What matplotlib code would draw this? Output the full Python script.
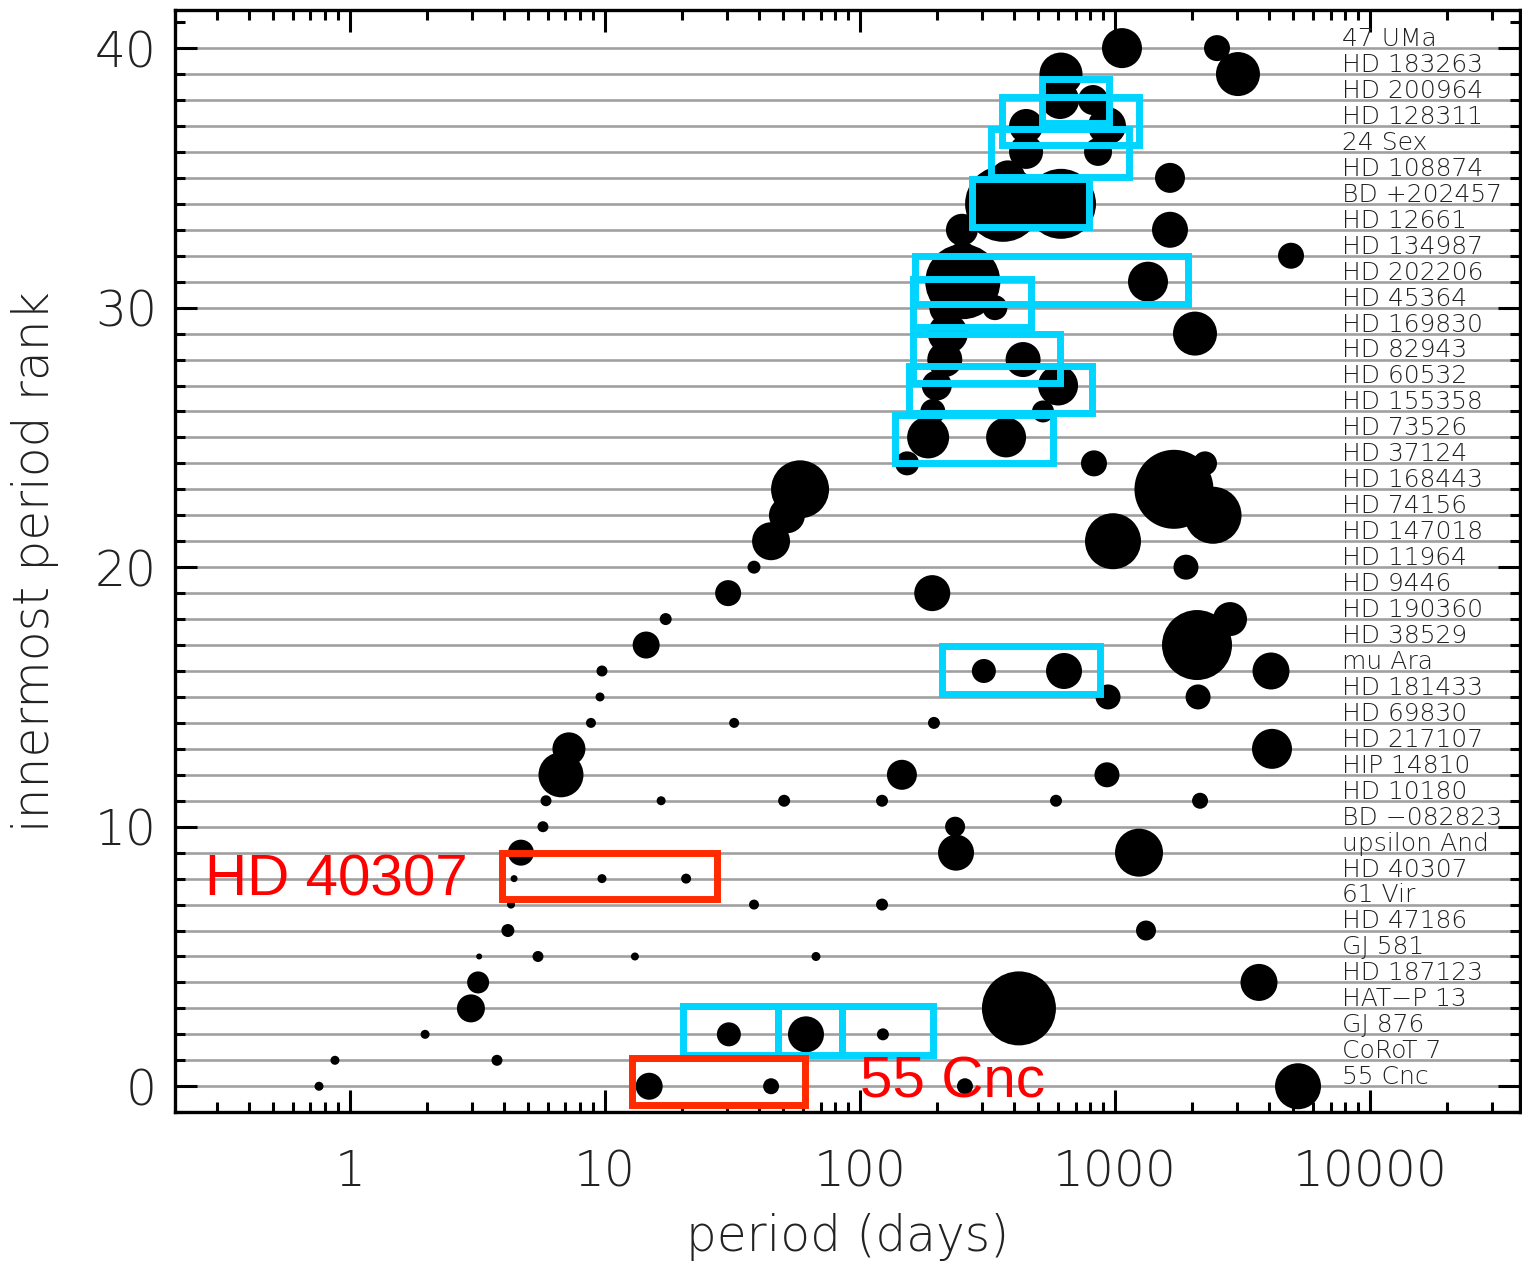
import numpy as np
import matplotlib
matplotlib.use('Agg')
import matplotlib.pyplot as plt
import matplotlib.transforms as mtransforms
from matplotlib.patches import Rectangle
from matplotlib.ticker import LogLocator, MultipleLocator, NullFormatter, FixedFormatter, FixedLocator

plt.rcParams['font.family'] = ['DejaVu Sans']

# systems, ordered by rank (0 = innermost period shortest)
stars = ["55 Cnc", "CoRoT 7", "GJ 876", "HAT−P 13", "HD 187123", "GJ 581",
         "HD 47186", "61 Vir", "HD 40307", "upsilon And", "BD −082823",
         "HD 10180", "HIP 14810", "HD 217107", "HD 69830", "HD 181433",
         "mu Ara", "HD 38529", "HD 190360", "HD 9446", "HD 11964",
         "HD 147018", "HD 74156", "HD 168443", "HD 37124", "HD 73526",
         "HD 155358", "HD 60532", "HD 82943", "HD 169830", "HD 45364",
         "HD 202206", "HD 134987", "HD 12661", "BD +202457", "HD 108874",
         "24 Sex", "HD 128311", "HD 200964", "HD 183263", "47 UMa"]

# orbital periods (days) of the planets of each system
periods = [
    [0.756, 14.9, 44.8, 258, 5220],
    [0.873, 3.77],
    [1.97, 30.6, 61.4, 123],
    [2.98, 420],
    [3.18, 3670],
    [3.21, 5.46, 13.1, 67.2],
    [4.16, 1323],
    [4.28, 38.4, 122],
    [4.40, 9.73, 20.8],
    [4.68, 238, 1242],
    [5.71, 236],
    [5.87, 16.6, 50.4, 122, 587, 2155],
    [6.72, 146, 930],
    [7.22, 4127],
    [8.81, 32.1, 195],
    [9.56, 939, 2117],
    [9.73, 306, 631, 4090],
    [14.5, 2097],
    [17.3, 2825],
    [30.4, 192],
    [38.4, 1898],
    [44.8, 982],
    [51.7, 2423],
    [58.2, 1703],
    [153, 827, 2254],
    [185, 374],
    [193, 522],
    [200, 598],
    [215, 436],
    [221, 2059],
    [219, 338],
    [253, 1347],
    [253, 4900],
    [251, 1643],
    [364, 614],
    [380, 1643],
    [448, 858],
    [448, 930],
    [609, 820],
    [614, 3035],
    [1065, 2512],
]

# relative planet sizes (dot diameter)
planet_size = [
    [9, 27, 16, 16, 46],
    [9, 11],
    [9, 24, 36, 12],
    [28, 74],
    [22, 37],
    [6, 11, 8, 9],
    [13, 20],
    [8, 10, 12],
    [7, 9, 10],
    [26, 36, 48],
    [11, 20],
    [11, 9, 12, 12, 12, 16],
    [45, 30, 25],
    [33, 40],
    [10, 10, 12],
    [9, 25, 25],
    [11, 24, 36, 37],
    [27, 70],
    [12, 34],
    [26, 36],
    [13, 25],
    [38, 56],
    [36, 57],
    [58, 79],
    [24, 26, 24],
    [42, 40],
    [25, 22],
    [30, 40],
    [35, 35],
    [40, 44],
    [35, 25],
    [75, 40],
    [28, 26],
    [32, 36],
    [76, 70],
    [35, 30],
    [34, 28],
    [34, 38],
    [38, 30],
    [43, 44],
    [40, 26],
]

# highlight boxes: (period min, period max, rank min, rank max)
cyan_boxes = [
    (515, 943, 37.1, 38.8),
    (362, 1247, 36.25, 38.1),
    (325, 1130, 35.05, 36.9),
    (274, 794, 33.1, 34.97),
    (164, 1925, 30.15, 32.0),
    (162, 470, 29.27, 31.12),
    (162, 611, 27.1, 29.0),
    (156, 816, 25.95, 27.77),
    (137, 569, 24.0, 25.88),
    (209, 870, 15.13, 16.97),
    (20.3, 47.5, 1.21, 3.10),
    (47.5, 85.2, 1.21, 3.10),
    (85.2, 194, 1.21, 3.10),
]
red_boxes = [
    (3.93, 27.4, 7.23, 9.0),
    (12.8, 60.6, -0.71, 1.10),
]
red_labels = ["HD 40307", "55 Cnc"]
red_label_pos = [(0.27, 7.94), (100, 0.15)]

x_ticks = [1, 10, 100, 1000, 10000]
x_ticklabels = ["1", "10", "100", "1000", "10000"]
y_ticks = [0, 10, 20, 30, 40]

fig = plt.figure(figsize=(15.22, 12.61), dpi=100)
ax = fig.add_axes([0.115, 0.118, 0.8837, 0.8739])
ax.set_xscale('log')
ax.set_xlim(0.206, 38750)
ax.set_ylim(-1, 41.46)

# horizontal rank lines
ranks = np.arange(len(stars))
ax.hlines(ranks, 0.206, 38750, colors='#a0a0a0', linewidth=1.9, zorder=1)

# planets
xs, ys, ss = [], [], []
for r, (pl, sz) in enumerate(zip(periods, planet_size)):
    for p, d in zip(pl, sz):
        xs.append(p)
        ys.append(r)
        ss.append((0.72 * d) ** 2)
ax.scatter(xs, ys, s=ss, c='black', edgecolors='none', zorder=2)

for (x0, x1, y0, y1) in cyan_boxes:
    ax.add_patch(Rectangle((x0, y0), x1 - x0, y1 - y0, fill=False,
                           edgecolor='#00d4ff', linewidth=5, joinstyle='miter', zorder=3))
for (x0, x1, y0, y1) in red_boxes:
    ax.add_patch(Rectangle((x0, y0), x1 - x0, y1 - y0, fill=False,
                           edgecolor='#ff2a00', linewidth=5, joinstyle='miter', zorder=3))
for txt, (px, py) in zip(red_labels, red_label_pos):
    ax.text(px, py, txt, color='#ff0000', fontsize=42, family='Liberation Sans',
            ha='left', va='center', zorder=4)

# star names on the right
trans = mtransforms.blended_transform_factory(ax.transAxes, ax.transData)
for r, name in enumerate(stars):
    ax.text(0.868, r + 0.08, name, transform=trans, ha='left', va='baseline',
            fontsize=18, color='#222222', fontweight='light', zorder=2)

ax.xaxis.set_major_locator(FixedLocator(x_ticks))
ax.xaxis.set_major_formatter(FixedFormatter(x_ticklabels))
ax.xaxis.set_minor_locator(LogLocator(base=10, subs=np.arange(2, 10), numticks=20))
ax.xaxis.set_minor_formatter(NullFormatter())
ax.yaxis.set_major_locator(FixedLocator(y_ticks))
ax.yaxis.set_minor_locator(MultipleLocator(1))

ax.tick_params(which='both', direction='in', top=True, right=True, width=2.2, color='black')
ax.tick_params(which='major', length=16, labelsize=35)
ax.tick_params(which='minor', length=7)
ax.tick_params(axis='x', which='major', pad=26)
ax.tick_params(axis='y', which='major', pad=13)
for lab in ax.get_xticklabels() + ax.get_yticklabels():
    lab.set_fontweight('light')
    lab.set_color('#222222')

for sp in ax.spines.values():
    sp.set_linewidth(2.4)

ax.set_xlabel('period (days)', fontsize=35, fontweight='light', color='#222222', labelpad=12)
ax.set_ylabel('innermost period rank', fontsize=35, fontweight='light', color='#222222', labelpad=26)

plt.savefig('out.png', dpi=100)
